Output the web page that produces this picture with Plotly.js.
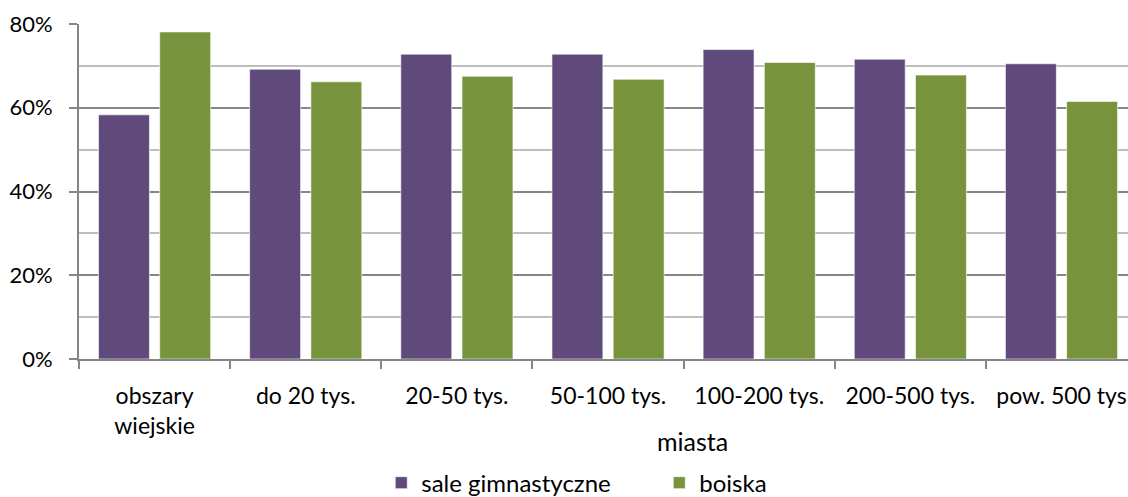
<!DOCTYPE html>
<html>
<head>
<meta charset="utf-8">
<script src="https://cdn.plot.ly/plotly-3.0.1.min.js"></script>
<style>html,body{margin:0;padding:0;background:#fff;}#chart{width:1128px;height:497px;}</style>
</head>
<body>
<div id="chart"></div>
<script>
var categories = ["obszary<br>wiejskie", "do 20 tys.", "20-50 tys.", "50-100 tys.", "100-200 tys.", "200-500 tys.", "pow. 500 tys"];
var saleGimnastyczne = [58.3, 69.2, 72.8, 72.8, 73.9, 71.6, 70.5];
var boiska = [78.1, 66.2, 67.5, 66.8, 70.8, 67.8, 61.5];
var seriesNames = ["sale gimnastyczne", "boiska"];
var groupLabel = "miasta";

var FONT = "Lato, 'Open Sans', sans-serif";

var traces = [
  {type: "bar", name: seriesNames[0], x: categories, y: saleGimnastyczne,
   marker: {color: "#604A7B", line: {color: "rgba(255,255,255,0.6)", width: 1}}, hoverinfo: "y"},
  {type: "bar", name: seriesNames[1], x: categories, y: boiska,
   marker: {color: "#77933C", line: {color: "rgba(255,255,255,0.6)", width: 1}}, hoverinfo: "y"}
];

var layout = {
  width: 1128, height: 497,
  margin: {l: 79, r: 0, t: 24, b: 137.5},
  paper_bgcolor: "#fff", plot_bgcolor: "#fff",
  font: {family: FONT, size: 24, color: "#000"},
  barmode: "group", bargap: 0.19, bargroupgap: 0.168,
  showlegend: true,
  legend: {orientation: "h", xref: "container", yref: "container", x: 0.338, y: 0.028,
           xanchor: "left", yanchor: "middle", font: {family: FONT, size: 24, color: "#000"},
           entrywidth: 233, entrywidthmode: "pixels", itemwidth: 30, traceorder: "normal"},
  xaxis: {type: "category", range: [-0.5, 6.44], showline: true, linecolor: "#868686", linewidth: 2,
          ticks: "outside", tickson: "boundaries", ticklen: 8, tickcolor: "#868686", tickwidth: 2,
          showgrid: false, zeroline: false, tickangle: 0, ticklabelstandoff: 15,
          tickfont: {family: FONT, size: 23, color: "#000"}},
  yaxis: {range: [0, 80], dtick: 20, tick0: 0, ticksuffix: "%", showline: true, linecolor: "#868686", linewidth: 2,
          ticks: "outside", ticklen: 8, tickcolor: "#868686", tickwidth: 2,
          showgrid: true, gridcolor: "#868686", gridwidth: 2, zeroline: false, ticklabelstandoff: 12,
          minor: {dtick: 10, tick0: 0, showgrid: true, gridcolor: "#BEBEBE", gridwidth: 2, ticks: ""},
          tickfont: {family: FONT, size: 22, color: "#000"}},
  annotations: [{text: groupLabel, xref: "paper", yref: "paper", x: 0.5845, y: -0.245,
                 xanchor: "center", yanchor: "middle", showarrow: false,
                 font: {family: FONT, size: 25, color: "#000"}}]
};

Plotly.newPlot("chart", traces, layout, {displayModeBar: false, staticPlot: true});
</script>
</body>
</html>
